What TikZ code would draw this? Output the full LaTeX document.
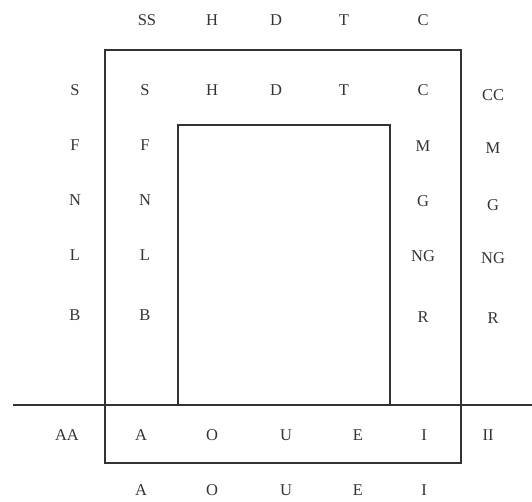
\documentclass[tikz,border=0pt]{standalone}
\usepackage{tikz}
\usepackage{fontspec}
\setmainfont{Liberation Serif}
\usetikzlibrary{positioning}

\begin{document}
\begin{tikzpicture}[x=1pt,y=-1pt,
  letter/.style={font=\fontsize{16.5}{18}\selectfont, inner sep=0pt, text=black!80},
  frame/.style={line width=1.3pt, draw=black!80}]
  \useasboundingbox (0,0) rectangle (532,502);

  % --- outer frame and inner (open) box ---
  \draw[frame] (105,50) rectangle (461,463);
  \draw[frame] (178,405) -- (178,125) -- (390,125) -- (390,405);

  % --- base line across the whole picture ---
  \draw[frame] (13,405) -- (532,405);

  % --- top row (outside the frame) ---
  \foreach \t/\x in {SS/147,H/212,D/276,T/344,C/423} {
    \node[letter] (top-\t) at (\x,20) {\t};
  }

  % --- top row (inside the frame) ---
  \foreach \t/\x in {S/145,H/212,D/276,T/344,C/423} {
    \node[letter] (in-\t) at (\x,90) {\t};
  }

  % --- left columns ---
  \foreach \t/\y in {S/90,F/145,N/200,L/255,B/315} {
    \node[letter] (lo-\t) at (75,\y) {\t};
  }
  \foreach \t/\y in {F/145,N/200,L/255,B/315} {
    \node[letter] (li-\t) at (145,\y) {\t};
  }

  % --- right columns ---
  \foreach \t/\y in {M/146,G/201,NG/256,R/317} {
    \node[letter] (ri-\t) at (423,\y) {\t};
  }
  \foreach \t/\y in {CC/95,M/148,G/205,NG/258,R/318} {
    \node[letter] (ro-\t) at (493,\y) {\t};
  }

  % --- vowel rows ---
  \foreach \t/\x in {AA/67,A/141,O/212,U/286,E/358,I/424,II/488} {
    \node[letter] (vi-\t) at (\x,435) {\t};
  }
  \foreach \t/\x in {A/141,O/212,U/286,E/358,I/424} {
    \node[letter] (vo-\t) at (\x,490) {\t};
  }
\end{tikzpicture}
\end{document}
